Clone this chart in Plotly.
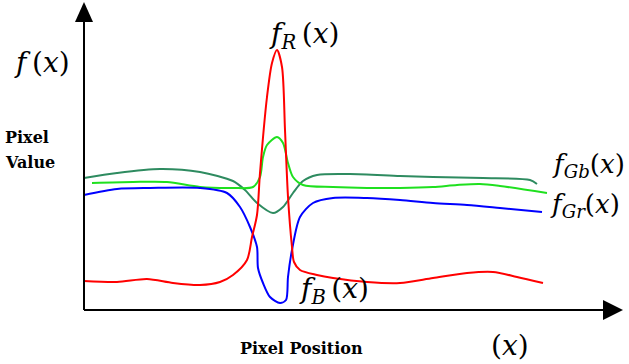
import plotly.graph_objects as go

# Data (x = pixel position from origin, y = pixel value)
red_x = [0, 33, 63, 89, 116, 136, 149, 163, 168, 173, 176, 183, 188, 193, 198, 201, 204, 208, 210, 216, 233, 249, 283, 316, 349, 383, 409, 433, 459]
red_y = [29, 28, 31, 27, 25, 28, 35, 50, 73, 95, 137, 213, 247, 260, 243, 180, 113, 63, 48, 40, 35, 32, 28, 27, 32, 37, 38, 33, 27]

blue_x = [0, 33, 66, 116, 143, 156, 166, 173, 174, 179, 186, 196, 202, 204, 208, 216, 229, 249, 283, 316, 349, 383, 416, 458]
blue_y = [115, 121, 122, 122, 117, 103, 83, 63, 42, 27, 13, 7, 10, 33, 60, 93, 107, 112, 112, 110, 107, 105, 102, 98]

green_x = [8, 49, 83, 116, 149, 169, 176, 179, 183, 193, 199, 204, 209, 219, 249, 283, 316, 349, 373, 396, 416, 463]
green_y = [127, 128, 128, 123, 122, 123, 133, 153, 165, 173, 167, 147, 133, 125, 123, 122, 122, 123, 125, 126, 124, 117]

teal_x = [0, 33, 76, 116, 149, 161, 173, 189, 199, 209, 219, 233, 266, 316, 349, 399, 446, 453]
teal_y = [132, 137, 141, 138, 129, 120, 107, 97, 103, 117, 129, 135, 136, 134, 133, 132, 130, 126]

series = [
    ("f_Gb", teal_x, teal_y, "#2e8b60"),
    ("f_Gr", green_x, green_y, "#1fe01f"),
    ("f_B", blue_x, blue_y, "#0000ff"),
    ("f_R", red_x, red_y, "#ff0000"),
]

fig = go.Figure()
for name, xs, ys, col in series:
    fig.add_trace(go.Scatter(x=xs, y=ys, mode="lines", name=name,
                             line=dict(color=col, width=2, shape="spline", smoothing=0.8),
                             hoverinfo="skip"))

# axes with arrows
shapes = [
    dict(type="line", x0=0, y0=0, x1=0, y1=290, line=dict(color="black", width=2)),
    dict(type="line", x0=0, y0=0, x1=520, y1=0, line=dict(color="black", width=2)),
    dict(type="path", path="M -9,288 L 9,288 L 0,308 Z", fillcolor="black", line=dict(color="black", width=0)),
    dict(type="path", path="M 519,-10 L 519,10 L 539,0 Z", fillcolor="black", line=dict(color="black", width=0)),
]

serif = "DejaVu Serif"
def ann(text, x, y, size=28, xanchor="left"):
    return dict(text=text, x=x, y=y, xref="x", yref="y", showarrow=False,
                xanchor=xanchor, yanchor="middle",
                font=dict(family=serif, size=size, color="black"))

ts = "\u2009"
annotations = [
    ann("<i>f</i>" + ts + "(<i>x</i>)", -72, 248),
    ann("<i>f<sub>R</sub></i>" + ts + "(<i>x</i>)", 183, 275),
    ann("<i>f<sub>Gb</sub></i>(<i>x</i>)", 466, 145, size=26),
    ann("<i>f<sub>Gr</sub></i>(<i>x</i>)", 464, 105, size=26),
    ann("<i>f<sub>B</sub></i>" + ts + "(<i>x</i>)", 213, 20),
    ann("(<i>x</i>)", 405, -35),
    ann("<b>Pixel Position</b>", 217, -38, size=16, xanchor="center"),
    ann("<b>Pixel</b>", -81, 173, size=16),
    ann("<b>Value</b>", -81, 148, size=16),
]

fig.update_layout(
    width=629, height=364,
    margin=dict(l=0, r=0, t=0, b=0),
    paper_bgcolor="white", plot_bgcolor="white",
    showlegend=False,
    font=dict(family=serif),
    xaxis=dict(range=[-84, 545], visible=False, fixedrange=True),
    yaxis=dict(range=[-54, 310], visible=False, fixedrange=True),
    shapes=shapes,
    annotations=annotations,
)

fig.write_html("out.html", config={"displayModeBar": False, "staticPlot": True},
               post_script="document.body.style.margin='0px';")
